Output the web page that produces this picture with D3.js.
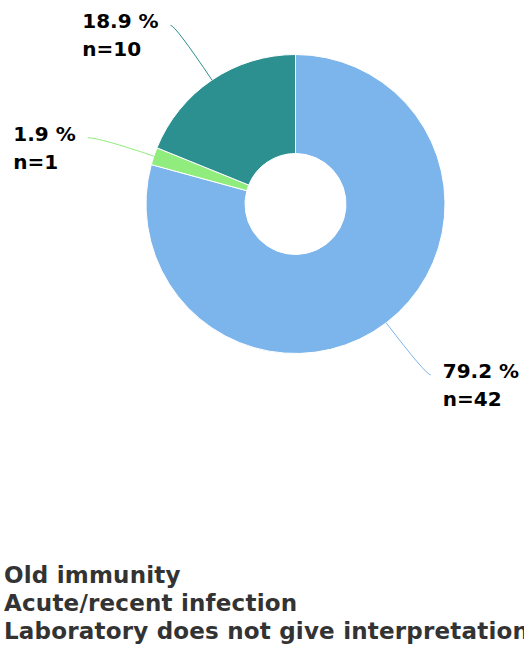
<!DOCTYPE html>
<html>
<head>
<meta charset="utf-8">
<script src="https://cdn.jsdelivr.net/npm/d3@7"></script>
<style>
  html, body { margin: 0; padding: 0; background: #fff; }
  svg { display: block; }
</style>
</head>
<body>
<script>
const categories = ["Old immunity", "Acute/recent infection", "Laboratory does not give interpretation"];
const counts = [42, 1, 10];
const percentLabels = ["79.2 %", "1.9 %", "18.9 %"];
const colors = ["#7cb5ec", "#90ed7d", "#2b908f"];

const W = 524, H = 650;
const cx = 295.5, cy = 204;
const outerR = 149.5, innerR = 50.5;
const labelR = 218;
const labelShift = -1 * Math.PI / 180;

const svg = d3.select("body").append("svg").attr("width", W).attr("height", H);
const g = svg.append("g").attr("transform", `translate(${cx},${cy})`);

const data = categories.map((c, i) => ({ name: c, n: counts[i], pct: percentLabels[i], color: colors[i] }));
const pie = d3.pie().value(d => d.n).sort(null);
const arcs = pie(data);
const arc = d3.arc().innerRadius(innerR).outerRadius(outerR);

g.selectAll("path.slice").data(arcs).join("path")
  .attr("class", "slice")
  .attr("d", arc)
  .attr("fill", d => d.data.color)
  .attr("stroke", "#ffffff")
  .attr("stroke-width", 1)
  .attr("stroke-linejoin", "round");

function polar(a, r) { return [r * Math.sin(a), -r * Math.cos(a)]; }

arcs.forEach(d => {
  const mid = (d.startAngle + d.endAngle) / 2;
  const right = Math.sin(mid) >= 0;
  const [sx, sy] = polar(mid, outerR);
  const [ax, ay] = polar(mid + labelShift, labelR);
  const dirx = Math.sin(mid), diry = -Math.cos(mid);
  const t = (ay - sy) / diry;
  const kx = sx + dirx * t;
  g.append("path")
    .attr("d", `M${sx},${sy} Q${kx},${ay} ${ax},${ay}`)
    .attr("fill", "none")
    .attr("stroke", d.data.color)
    .attr("stroke-width", 1);
  const txt = g.append("text")
    .attr("y", ay + 3)
    .attr("font-family", "DejaVu Sans, sans-serif")
    .attr("font-weight", "bold")
    .attr("font-size", "20px")
    .attr("fill", "#000000");
  const t1 = txt.append("tspan").attr("x", 0).attr("dy", 0).text(d.data.pct);
  const t2 = txt.append("tspan").attr("x", 0).attr("dy", 28).text("n=" + d.data.n);
  const bw = txt.node().getBBox().width;
  const tx = right ? ax + 12 : ax - 12 - bw;
  t1.attr("x", tx);
  t2.attr("x", tx);
});

const legend = svg.append("g");
legend.selectAll("text").data(data).join("text")
  .attr("x", 4)
  .attr("y", (d, i) => 583 + i * 28)
  .attr("font-family", "DejaVu Sans, sans-serif")
  .attr("font-weight", "bold")
  .attr("font-size", "23px")
  .attr("letter-spacing", "0.2px")
  .attr("fill", "#333333")
  .text(d => d.name);
</script>
</body>
</html>
